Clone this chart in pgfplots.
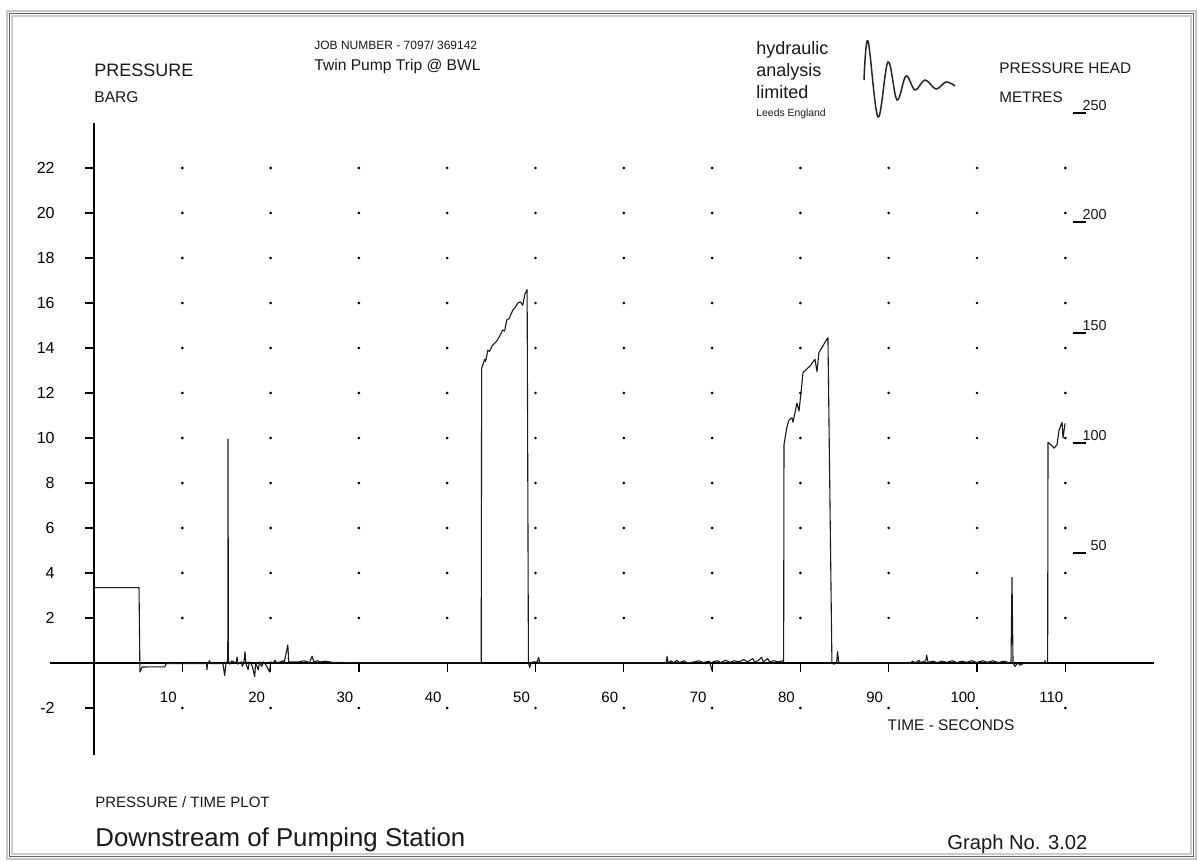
\documentclass[border=0pt]{standalone}
\usepackage{pgfplots}
\pgfplotsset{compat=1.18}
\usepackage{fontspec}
\setmainfont{Liberation Sans}
\newcommand\fs[1]{\fontsize{#1}{#1}\selectfont}
\begin{document}
\begin{tikzpicture}
\begin{scope}[x=0.5pt,y=0.5pt]
\path[use as bounding box] (0,0) rectangle (1198,861);
\fill[white] (0,0) rectangle (1198,861);
% frame
\draw[gray!45, line width=0.6pt] (7,2) rectangle (1196,850);
\draw[gray!75!black, line width=0.8pt] (9.5,4.5) rectangle (1193.5,847.5);
\draw[gray!40, line width=0.6pt] (12,7) rectangle (1191,845);
\end{scope}

\begin{axis}[
  at={(47pt,99pt)}, anchor=origin,
  x=4.415pt, y=11.25pt,
  xmin=-5, xmax=120, ymin=-4.1, ymax=24,
  enlargelimits=false,
  axis lines=middle,
  axis line style={-, line width=0.6pt, black},
  xtick={10,20,...,110},
  xticklabels={10,20,30,40,50,60,70,80,90,100,110},
  ytick={-2,2,4,...,22},
  yticklabels={-2,2,4,6,8,10,12,14,16,18,20,22},
  tick style={line width=0.6pt, black},
  xtick style={draw=none},
  major tick length=4.5pt,
  ytick align=outside,
  xtick align=inside,
  xticklabel style={font=\fs{7.5}, anchor=center, inner sep=0pt, xshift=-7pt, yshift=-17.25pt},
  yticklabel style={font=\fs{8}, anchor=east, inner sep=0pt, xshift=-15pt},
  clip=false,
]
\pgfplotsinvokeforeach{10,20,...,110}{
  \addplot[only marks, mark=*, mark size=0.45pt, mark options={draw=none, fill=gray!65}, forget plot]
   coordinates {(#1,-2)(#1,2)(#1,4)(#1,6)(#1,8)(#1,10)(#1,12)(#1,14)(#1,16)(#1,18)(#1,20)(#1,22)};
}
\addplot[black!90, line width=0.55pt, line join=round] coordinates {
(0,3.35)(5.1,3.35)(5.2,-0.4)(5.45,-0.18)(6.5,-0.17)(8.0,-0.17)(8.2,-0.03)
(10.2,-0.03)(12.75,-0.03)(12.8,-0.3)(12.85,-0.03)(13.1,0.1)(13.15,-0.03)
(14.6,-0.03)(14.8,-0.55)(14.95,0.0)(15.15,0.1)(15.18,9.95)(15.22,0.1)
(15.4,-0.05)(15.6,0.1)(16.1,0.0)(16.2,0.27)(16.3,-0.05)(16.7,0.05)(16.8,-0.15)(17.0,0.1)(17.1,0.5)(17.2,0.0)
(17.45,-0.3)(17.6,0.05)(17.9,-0.1)(18.2,-0.6)(18.3,0.0)(18.6,-0.3)(18.75,0.05)(19.0,-0.15)(19.2,0.05)
(19.5,-0.1)(19.9,-0.4)(20.0,0.05)(20.3,0.0)(20.5,0.12)(20.7,0.0)(21.1,0.05)(21.4,0.1)(21.55,0.05)
(21.95,0.8)(22.05,0.05)(22.6,0.05)(23.2,0.05)(23.8,0.1)(24.4,0.02)(24.7,0.3)(24.9,0.05)(25.3,0.1)
(25.6,0.05)(26.2,0.08)(27.0,0.03)(28.2,0.02)(30,0.0)(40,0.0)(43.85,0.0)
(43.9,13.1)(44.25,13.5)(44.35,13.4)(44.6,13.9)(44.8,13.85)(45.1,14.1)(45.6,14.3)(45.9,14.5)(46.3,14.8)
(46.5,14.75)(46.75,15.25)(47.0,15.3)(47.45,15.7)(47.7,15.8)(48.0,16.0)(48.3,16.05)(48.55,15.9)(48.8,16.4)
(49.05,16.6)(49.2,0.0)(49.35,-0.2)(49.5,0.0)(49.7,0.05)(50.2,0.05)(50.35,0.25)(50.5,0.0)(52,0.0)(60,0.0)(64.8,0.0)
(64.9,0.3)(65.0,0.02)(65.4,0.1)(65.6,0.0)(66.0,0.12)(66.3,0.02)(66.8,0.1)(67.2,0.0)(68.0,0.05)(68.5,0.1)
(69.0,0.02)(69.7,0.08)(70.0,-0.35)(70.1,0.05)(70.6,0.1)(71.0,0.02)(71.5,0.12)(72.0,0.03)(72.5,0.1)(73.0,0.05)
(73.6,0.15)(74.0,0.05)(74.6,0.2)(74.8,0.05)(75.2,0.1)(75.6,0.25)(75.8,0.05)(76.3,0.2)(76.5,0.05)(77.0,0.1)
(77.5,0.05)(78.0,0.1)(78.1,0.05)
(78.14,9.7)(78.48,10.5)(78.71,10.8)(79.05,10.9)(79.16,10.7)(79.61,11.55)(79.84,11.2)(80.07,12.0)(80.29,12.9)
(81.09,13.2)(81.65,13.5)(81.88,12.95)(82.1,13.8)(82.56,14.1)(83.01,14.4)(83.12,14.45)
(83.57,0.0)(83.8,-0.05)(84.1,0.0)(84.2,0.5)(84.35,0.0)(85,0.02)(88,0.0)(92.5,0.0)(92.7,0.08)(93.0,0.0)
(93.4,0.12)(93.6,0.02)(94.2,0.1)(94.3,0.35)(94.45,0.03)(95.0,0.08)(95.5,0.02)(96.0,0.08)(96.6,0.03)(97.2,0.1)
(97.7,0.02)(98.3,0.08)(98.8,0.03)(99.4,0.1)(100,0.02)(100.6,0.1)(101.2,0.03)(101.8,0.1)(102.4,0.02)(103.0,0.08)
(103.5,0.03)(103.85,0.0)(103.96,3.8)(104.08,0.0)(104.3,-0.15)(104.6,0.0)(104.9,-0.1)(105.3,0.0)(107.6,0.0)
(107.7,0.1)(107.8,0.0)(108.0,0.0)
(108.04,9.8)(108.38,9.7)(108.72,9.55)(109.06,9.7)(109.29,10.35)(109.63,10.7)(109.74,10.0)(109.97,10.65)
};
\end{axis}

\begin{scope}[x=0.5pt,y=0.5pt, every node/.style={inner sep=0pt, text=black!90}]
% x tick marks below the time axis
\foreach \k in {1,...,11}{
  \draw[black, line width=0.6pt] ({94+88.3*\k},198) -- ({94+88.3*\k},189);
}
\node[anchor=base west, font=\fs{9}] at (94,784.5) {PRESSURE};
\node[anchor=base west, font=\fs{7.8}] at (94,758.4) {BARG};
\node[anchor=base west, font=\fs{6}] at (314,811.7) {JOB NUMBER - 7097/ 369142};
\node[anchor=base west, font=\fs{7.8}] at (314,790.4) {Twin Pump Trip @ BWL};
\node[anchor=base west, font=\fs{9}] at (756,806) {hydraulic};
\node[anchor=base west, font=\fs{9}] at (756,784) {analysis};
\node[anchor=base west, font=\fs{9}] at (756,762) {limited};
\node[anchor=base west, font=\fs{5.2}] at (756,744) {Leeds England};
\draw[black!85, line width=0.75pt, smooth, tension=0.6] plot coordinates {(864,781)(868,820)(878,744)(888,799)(897,761)(906,785)(915,771)(925,781)(936,772)(946,779)(955,775)};
\node[anchor=base west, font=\fs{7.7}] at (999,787.5) {PRESSURE HEAD};
\node[anchor=base west, font=\fs{7.6}] at (999,758.6) {METRES};
\foreach \ty/\lab in {113/250,222/200,333/150,443/100,553/50}{
  \draw[black, line width=0.6pt] (1073,861-\ty) -- (1086,861-\ty);
  \node[anchor=base east, font=\fs{7.2}] at (1107,863-\ty) {\lab};
}
\node[anchor=base, font=\fs{7.7}] at (951,130.5) {TIME - SECONDS};
\node[anchor=base west, font=\fs{7.5}] at (95,53) {PRESSURE / TIME PLOT};
\node[anchor=base west, font=\fs{12.9}] at (95,14) {Downstream of Pumping Station};
\node[anchor=base west, font=\fs{10.1}] at (947,11) {Graph No. 3.02};
\end{scope}
\end{tikzpicture}
\end{document}
